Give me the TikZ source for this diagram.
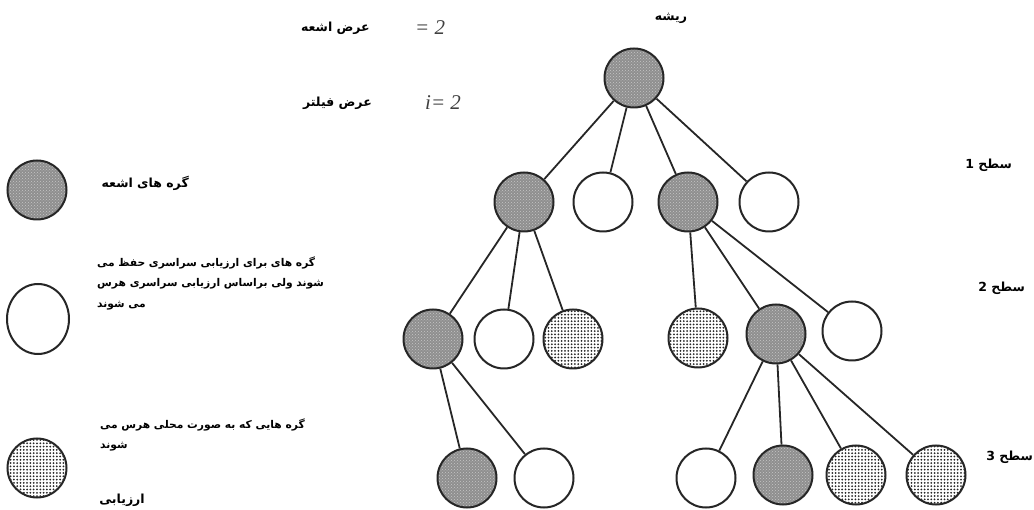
\documentclass[tikz,border=0pt]{standalone}
\usepackage{fontspec}
\setmainfont{Liberation Serif}
\newfontfamily\arabicfont[Script=Arabic]{DejaVu Sans}
\TeXXeTstate=1
\usetikzlibrary{patterns,shapes.geometric}
\pgfdeclarepatternformonly{bigdots}{\pgfqpoint{-1pt}{-1pt}}{\pgfqpoint{2.4pt}{2.4pt}}{\pgfqpoint{3.3pt}{3.3pt}}{\pgfpathcircle{\pgfqpoint{0.7pt}{0.7pt}}{1pt}\pgfusepath{fill}}
\begin{document}
\begin{tikzpicture}[x=1pt,y=-1pt,
 nd/.style={circle,draw=black!85,line width=2pt,minimum size=59pt,inner sep=0pt},
 rays/.style={nd,preaction={fill=gray!88},pattern=crosshatch dots,pattern color=gray!45},
 kept/.style={nd,fill=white},
 pruned/.style={nd,pattern=bigdots,pattern color=black!85},
 edge/.style={draw=black!85,line width=1.8pt},
 ar/.style={font=\arabicfont\bfseries\fontsize{12.5}{20.5}\selectfont,inner sep=0pt},
 arl/.style={font=\arabicfont\bfseries\fontsize{10.7}{20.5}\selectfont,inner sep=0pt},
 eq/.style={font=\itshape\fontsize{21}{22}\selectfont,inner sep=0pt,text=black!75}]
\useasboundingbox (0,0) rectangle (1034,510);
% tree
\node[rays] (root) at (634,78) {};
\node[rays] (l1a) at (524,202) {};
\node[kept] (l1b) at (603,202) {};
\node[rays] (l1c) at (688,202) {};
\node[kept] (l1d) at (769,202) {};
\node[rays] (l2a) at (433,339) {};
\node[kept] (l2b) at (504,339) {};
\node[pruned] (l2c) at (573,339) {};
\node[pruned] (l2d) at (698,338) {};
\node[rays] (l2e) at (776,334) {};
\node[kept] (l2f) at (852,331) {};
\node[rays] (l3a) at (467,478) {};
\node[kept] (l3b) at (544,478) {};
\node[kept] (l3c) at (706,478) {};
\node[rays] (l3d) at (783,475) {};
\node[pruned] (l3e) at (856,475) {};
\node[pruned] (l3f) at (936,475) {};
\foreach \a/\b in {root/l1a,root/l1b,root/l1c,root/l1d,
  l1a/l2a,l1a/l2b,l1a/l2c,l1c/l2d,l1c/l2e,l1c/l2f,
  l2a/l3a,l2a/l3b,l2e/l3c,l2e/l3d,l2e/l3e,l2e/l3f}
  \draw[edge] (\a) -- (\b);
% legend
\node[rays] (leg1) at (37,190) {};
\node[kept,ellipse,minimum width=62pt,minimum height=70pt] (leg2) at (38,319) {};
\node[pruned] (leg3) at (37,468) {};
\node[ar,anchor=east] (tray) at (189,183) {\beginR گره های اشعه\endR};
\node[arl,anchor=west,align=left] (tkept) at (97,283) {\beginR گره های برای ارزیابی سراسری حفظ می\endR\\\beginR شوند ولی براساس ارزیابی سراسری هرس\endR\\\beginR می شوند\endR};
\node[arl,anchor=west,align=left] (tpruned) at (100,435) {\beginR گره هایی که به صورت محلی هرس می\endR\\\beginR شوند\endR};
\node[ar] (teval) at (122,500) {\beginR ارزیابی\endR};
% top labels
\node[ar,anchor=east] (wray) at (370,28) {\beginR عرض اشعه\endR};
\node[eq,anchor=west] (vray) at (415,28) {= 2};
\node[ar,anchor=east] (wfil) at (372,103) {\beginR عرض فیلتر\endR};
\node[eq,anchor=west] (vfil) at (425,103) {i= 2};
\node[ar] (troot) at (671,18) {\beginR ریشه\endR};
% level labels
\node[ar,anchor=east] (lev1) at (1012,165) {\beginR سطح 1\endR};
\node[ar,anchor=east] (lev2) at (1025,288) {\beginR سطح 2\endR};
\node[ar,anchor=east] (lev3) at (1033,457) {\beginR سطح 3\endR};
\end{tikzpicture}
\end{document}
